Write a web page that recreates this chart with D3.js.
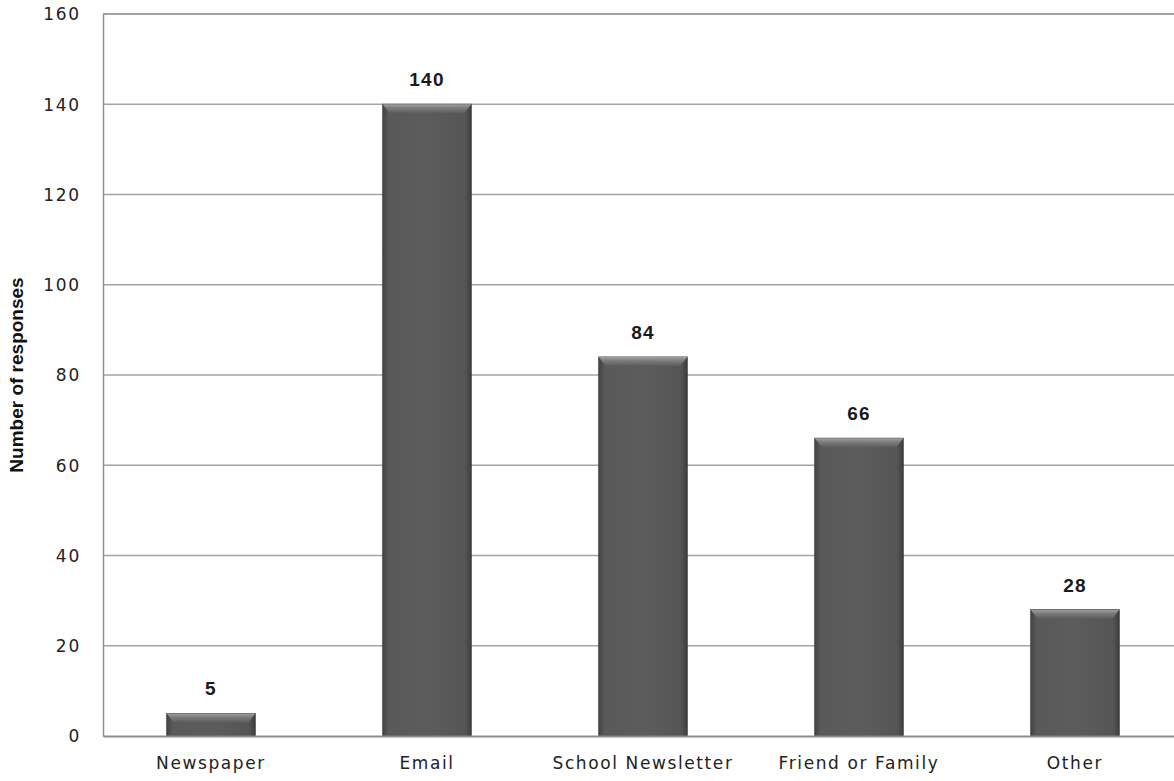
<!DOCTYPE html>
<html>
<head>
<meta charset="utf-8">
<script src="https://cdn.jsdelivr.net/npm/d3@7"></script>
<style>
  html, body { margin: 0; padding: 0; background: #fff; }
  svg { display: block; }
</style>
</head>
<body>
<svg id="chart" width="1174" height="781"></svg>
<script>
const categories = ["Newspaper", "Email", "School Newsletter", "Friend or Family", "Other"];
const responses = [5, 140, 84, 66, 28];
const yTicks = [0, 20, 40, 60, 80, 100, 120, 140, 160];
const yTitle = "Number of responses";

const plot = { left: 103, right: 1183, top: 14, bottom: 736 };

const svg = d3.select("#chart");

const x = d3.scaleBand()
  .domain(categories)
  .range([plot.left, plot.right])
  .paddingInner(0.59)
  .paddingOuter(0.295);

const y = d3.scaleLinear().domain([0, 160]).range([plot.bottom, plot.top]);

// gradients for the bevelled bars
const defs = svg.append("defs");
const sideGrad = defs.append("linearGradient").attr("id", "barSide")
  .attr("x1", 0).attr("x2", 1).attr("y1", 0).attr("y2", 0);
sideGrad.append("stop").attr("offset", "0").attr("stop-color", "#444");
sideGrad.append("stop").attr("offset", "0.07").attr("stop-color", "#595959");
sideGrad.append("stop").attr("offset", "0.5").attr("stop-color", "#5c5c5c");
sideGrad.append("stop").attr("offset", "0.93").attr("stop-color", "#555");
sideGrad.append("stop").attr("offset", "1").attr("stop-color", "#3e3e3e");

const capGrad = defs.append("linearGradient").attr("id", "barTop")
  .attr("x1", 0).attr("x2", 0).attr("y1", 0).attr("y2", 1);
capGrad.append("stop").attr("offset", "0").attr("stop-color", "#a0a0a0");
capGrad.append("stop").attr("offset", "0.4").attr("stop-color", "#7e7e7e");
capGrad.append("stop").attr("offset", "1").attr("stop-color", "#5c5c5c");

// gridlines
svg.append("g")
  .selectAll("line")
  .data(yTicks.filter(d => d > 0))
  .join("line")
  .attr("x1", plot.left).attr("x2", plot.right)
  .attr("y1", d => y(d)).attr("y2", d => y(d))
  .attr("stroke", "#a3a3a3")
  .attr("stroke-width", d => d === 160 ? 2 : 1.5);

// y axis
const yAxis = d3.axisLeft(y).tickValues(yTicks).tickSize(0).tickPadding(22);
const gy = svg.append("g").attr("transform", `translate(${plot.left},0)`).call(yAxis);
gy.select(".domain").attr("stroke", "#8e8e8e").attr("stroke-width", 1.5);
gy.selectAll("text")
  .attr("font-family", "DejaVu Sans, Verdana, sans-serif")
  .attr("font-size", 17)
  .attr("fill", "#222")
  .attr("letter-spacing", "1.8px")
  .attr("dy", "0.35em");

// bars
const bevel = 7;
const bars = svg.append("g").selectAll("g").data(categories).join("g");
bars.append("rect")
  .attr("x", d => x(d))
  .attr("y", (d, i) => y(responses[i]))
  .attr("width", x.bandwidth())
  .attr("height", (d, i) => y(0) - y(responses[i]))
  .attr("fill", "url(#barSide)")
  .attr("stroke", "#3c3c3c")
  .attr("stroke-width", 0.8);
bars.append("path")
  .attr("d", (d, i) => {
    const x0 = x(d), x1 = x(d) + x.bandwidth(), t = y(responses[i]);
    const h = Math.min(bevel + 2, (y(0) - t) * 0.6);
    return `M${x0},${t}L${x1},${t}L${x1 - bevel},${t + h}L${x0 + bevel},${t + h}Z`;
  })
  .attr("fill", "url(#barTop)");

// x axis baseline
const xAxis = d3.axisBottom(x).tickSize(0).tickPadding(20);
const gx = svg.append("g").attr("transform", `translate(0,${plot.bottom})`).call(xAxis);
gx.select(".domain").attr("stroke", "#8e8e8e").attr("stroke-width", 2);
gx.selectAll("text")
  .attr("font-family", "DejaVu Sans, Verdana, sans-serif")
  .attr("font-size", 17)
  .attr("fill", "#222")
  .attr("letter-spacing", "1.6px")
  .attr("dy", "0.75em");

// value labels
svg.append("g").selectAll("text").data(categories).join("text")
  .attr("x", d => x(d) + x.bandwidth() / 2)
  .attr("y", (d, i) => y(responses[i]) - 18)
  .attr("text-anchor", "middle")
  .attr("font-family", "Liberation Sans, Arial, sans-serif")
  .attr("font-weight", "bold")
  .attr("font-size", 19)
  .attr("letter-spacing", "1.3px")
  .attr("fill", "#1a1a1a")
  .text((d, i) => responses[i]);

// y axis title
svg.append("text")
  .attr("transform", `translate(23,${(plot.top + plot.bottom) / 2}) rotate(-90)`)
  .attr("text-anchor", "middle")
  .attr("font-family", "Liberation Sans, Arial, sans-serif")
  .attr("font-weight", "bold")
  .attr("font-size", 19)
  .attr("fill", "#111")
  .text(yTitle);
</script>
</body>
</html>
